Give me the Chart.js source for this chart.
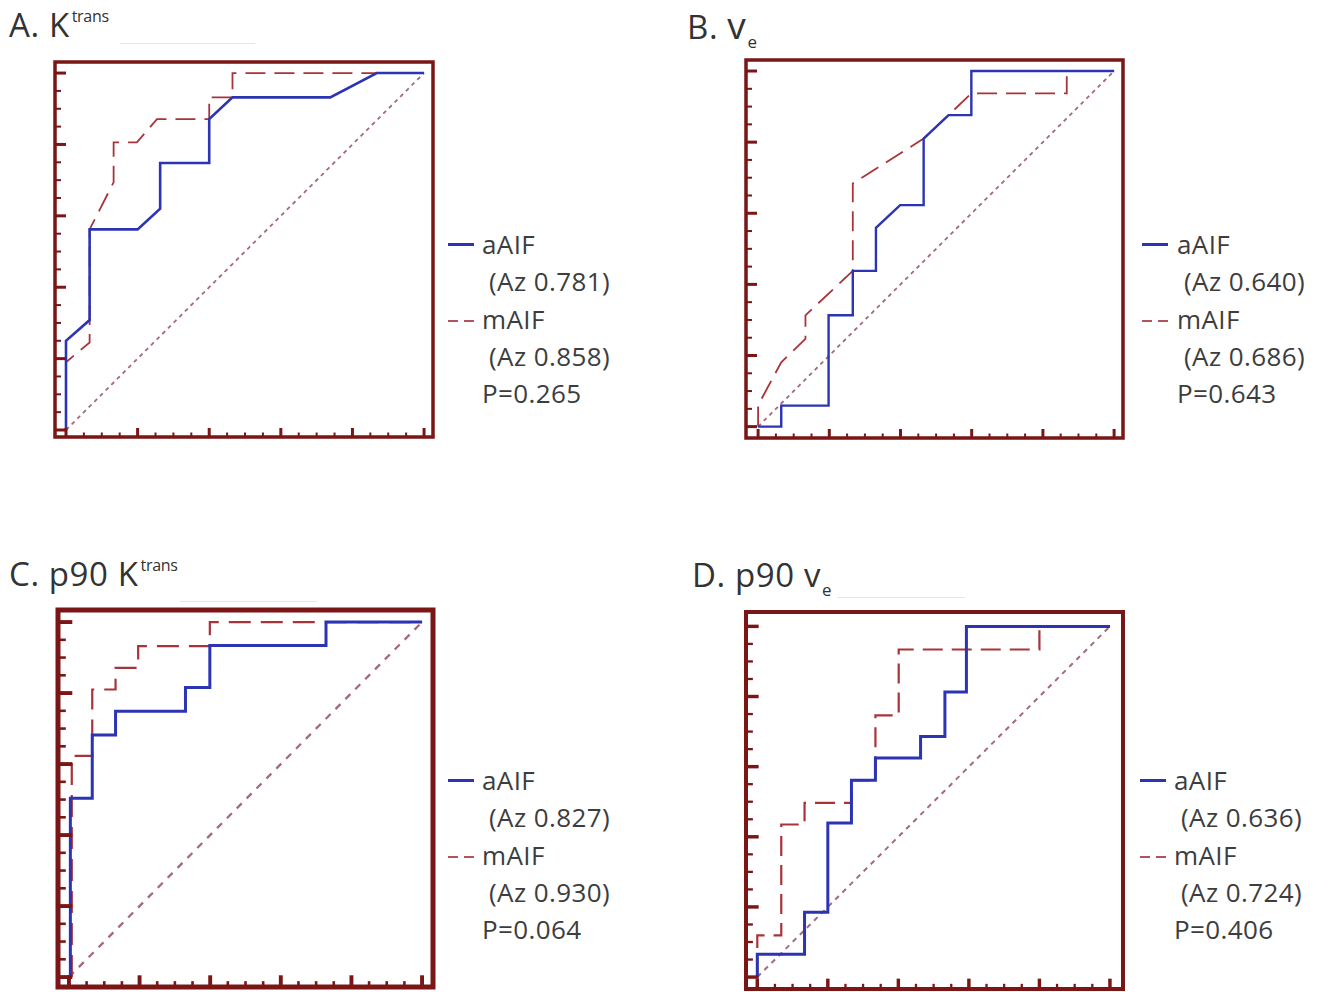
<!DOCTYPE html>
<html>
<head>
<meta charset="utf-8">
<script src="https://cdn.jsdelivr.net/npm/chart.js@4.4.0/dist/chart.umd.min.js"></script>
<style>
  html, body { margin:0; padding:0; background:#fff; }
  body { width:1325px; height:992px; position:relative; overflow:hidden; font-family:"Open Sans", "Noto Sans", sans-serif; color:#3d3d3d; }
  .title { position:absolute; font-size:33px; line-height:33px; white-space:nowrap; color:#333; letter-spacing:0.6px; }
  .title .sup { font-size:16px; position:relative; top:-15px; margin-left:2px; letter-spacing:-0.3px; }
  .title .sub { font-size:17px; position:relative; top:9px; margin-left:1px; }
  .title .bigv { font-size:37px; }
  .legend { position:absolute; font-size:26px; line-height:37.3px; white-space:nowrap; color:#3d3d3d; letter-spacing:0.4px; }
  .legend .ind { padding-left:7px; }
  .mark { position:absolute; height:0; }
  .faint { position:absolute; height:1px; background:#e6e6e6; }
  .box { position:absolute; }
</style>
</head>
<body>
<script>
// ---------- data (FPR = 1-specificity, TPR = sensitivity) ----------
// A. Ktrans
const fprA_aAIF = [0, 0, 0.066, 0.066, 0.2, 0.263, 0.263, 0.4, 0.4, 0.465, 0.738, 0.868, 1];
const tprA_aAIF = [0, 0.25, 0.308, 0.562, 0.562, 0.62, 0.748, 0.748, 0.871, 0.932, 0.932, 1, 1];
const fprA_mAIF = [0, 0, 0.066, 0.066, 0.133, 0.133, 0.198, 0.254, 0.4, 0.4, 0.465, 0.465, 1];
const tprA_mAIF = [0, 0.19, 0.245, 0.562, 0.694, 0.806, 0.806, 0.871, 0.871, 0.932, 0.932, 1, 1];
// B. ve
const fprB_aAIF = [0, 0.065, 0.065, 0.198, 0.198, 0.266, 0.266, 0.331, 0.331, 0.399, 0.465, 0.465, 0.535, 0.599, 0.599, 1];
const tprB_aAIF = [0, 0, 0.059, 0.059, 0.313, 0.313, 0.438, 0.438, 0.559, 0.623, 0.623, 0.81, 0.876, 0.876, 1, 1];
const fprB_mAIF = [0, 0, 0.065, 0.133, 0.133, 0.266, 0.266, 0.465, 0.535, 0.599, 0.867, 0.867, 1];
const tprB_mAIF = [0, 0.06, 0.181, 0.247, 0.313, 0.438, 0.684, 0.81, 0.876, 0.937, 0.937, 1, 1];
// C. p90 Ktrans
const fprC_aAIF = [0.004, 0.004, 0.066, 0.066, 0.132, 0.132, 0.33, 0.33, 0.399, 0.399, 0.728, 0.728, 1];
const tprC_aAIF = [0, 0.504, 0.504, 0.682, 0.682, 0.749, 0.749, 0.816, 0.816, 0.934, 0.934, 1, 1];
const fprC_mAIF = [0.008, 0.008, 0.066, 0.066, 0.132, 0.132, 0.196, 0.196, 0.399, 0.399, 1];
const tprC_mAIF = [0, 0.623, 0.623, 0.81, 0.81, 0.871, 0.871, 0.932, 0.932, 1, 1];
// D. p90 ve
const fprD_aAIF = [0, 0, 0.134, 0.134, 0.2, 0.2, 0.267, 0.267, 0.335, 0.335, 0.463, 0.463, 0.532, 0.532, 0.593, 0.593, 1];
const tprD_aAIF = [0, 0.065, 0.065, 0.185, 0.185, 0.439, 0.439, 0.561, 0.561, 0.625, 0.625, 0.686, 0.686, 0.813, 0.813, 1, 1];
const fprD_mAIF = [0, 0, 0.068, 0.068, 0.134, 0.134, 0.267, 0.267, 0.335, 0.335, 0.401, 0.401, 0.8, 0.8, 1];
const tprD_mAIF = [0, 0.119, 0.119, 0.435, 0.435, 0.497, 0.497, 0.561, 0.561, 0.746, 0.746, 0.934, 0.934, 1, 1];
// chance line
const chanceX = [0, 1];
const chanceY = [0, 1];
// axis tick values
const majorTicks = [0, 0.2, 0.4, 0.6, 0.8, 1.0];
const minorTicks = [0.05, 0.1, 0.15, 0.25, 0.3, 0.35, 0.45, 0.5, 0.55, 0.65, 0.7, 0.75, 0.85, 0.9, 0.95];
// legend text
const seriesNames = ['aAIF', 'mAIF'];
const azA = ['0.781', '0.858'];
const azB = ['0.640', '0.686'];
const azC = ['0.827', '0.930'];
const azD = ['0.636', '0.724'];
const pValues = ['0.265', '0.643', '0.064', '0.406'];

// ---------- layout / styling ----------
const BLUE = '#2b35b4';
const RED = '#a8343a';
const DIAG = '#a46a7c';
const FRAME = '#7a1616';

function pts(xs, ys) { return xs.map((x, i) => ({x: x, y: ys[i]})); }

const panels = [
  { id:'A', frame:[55, 62, 433, 437], xr:[-0.0307, 1.025], yr:[-0.0196, 1.031], fw:3.5, tw:1,
    a:[fprA_aAIF, tprA_aAIF], m:[fprA_mAIF, tprA_mAIF], diagDash:[4,4], diagW:1.8, mW:1.8, aW:2.6, mDash:[20,9] },
  { id:'B', frame:[746, 60, 1123, 438], xr:[-0.034, 1.025], yr:[-0.032, 1.031], fw:3.5, tw:1,
    a:[fprB_aAIF, tprB_aAIF], m:[fprB_mAIF, tprB_mAIF], diagDash:[4,4], diagW:1.8, mW:1.8, aW:2.4, mDash:[20,9] },
  { id:'C', frame:[58, 610, 433, 987], xr:[-0.031, 1.031], yr:[-0.028, 1.034], fw:5, tw:1.3,
    a:[fprC_aAIF, tprC_aAIF], m:[fprC_mAIF, tprC_mAIF], diagDash:[7,7], diagW:2.3, mW:2.2, aW:3, mDash:[22,10] },
  { id:'D', frame:[746, 612, 1123, 989], xr:[-0.032, 1.037], yr:[-0.034, 1.041], fw:4, tw:1.15,
    a:[fprD_aAIF, tprD_aAIF], m:[fprD_mAIF, tprD_mAIF], diagDash:[5,5], diagW:2, mW:2.2, aW:3, mDash:[20,9] }
];

const framePlugin = {
  id: 'rocFrame',
  afterDatasetsDraw(chart, args, opts) {
    const ctx = chart.ctx, ca = chart.chartArea;
    const xs = chart.scales.x, ys = chart.scales.y;
    const k = opts.tw || 1;
    ctx.save();
    ctx.strokeStyle = FRAME;
    ctx.lineCap = 'butt';
    const drawY = (v, len, w) => {
      const py = ys.getPixelForValue(v);
      ctx.lineWidth = w; ctx.beginPath(); ctx.moveTo(ca.left, py); ctx.lineTo(ca.left + len, py); ctx.stroke();
    };
    const drawX = (v, len, w) => {
      const px = xs.getPixelForValue(v);
      ctx.lineWidth = w; ctx.beginPath(); ctx.moveTo(px, ca.bottom); ctx.lineTo(px, ca.bottom - len); ctx.stroke();
    };
    minorTicks.forEach(v => { drawY(v, 6 * k, 2 * k); drawX(v, 4.5 * k, 2 * k); });
    majorTicks.forEach(v => { drawY(v, 11 * k, 3 * k); drawX(v, 9 * k, 3 * k); });
    ctx.lineWidth = opts.fw;
    ctx.strokeRect(ca.left, ca.top, ca.right - ca.left, ca.bottom - ca.top);
    ctx.restore();
  }
};

panels.forEach(p => {
  const pad = 6;
  const [l, t, r, b] = p.frame;
  const div = document.createElement('div');
  div.className = 'box';
  div.style.left = (l - pad) + 'px';
  div.style.top = (t - pad) + 'px';
  const cv = document.createElement('canvas');
  cv.width = (r - l) + 2 * pad;
  cv.height = (b - t) + 2 * pad;
  cv.style.width = cv.width + 'px';
  cv.style.height = cv.height + 'px';
  div.appendChild(cv);
  document.body.appendChild(div);
  new Chart(cv.getContext('2d'), {
    type: 'line',
    data: {
      datasets: [
        { label: seriesNames[0], data: pts(p.a[0], p.a[1]), borderColor: BLUE, borderWidth: p.aW, fill: false },
        { label: seriesNames[1], data: pts(p.m[0], p.m[1]), borderColor: RED, borderWidth: p.mW, borderDash: p.mDash, fill: false },
        { label: 'chance', data: pts(chanceX, chanceY), borderColor: DIAG, borderWidth: p.diagW, borderDash: p.diagDash, fill: false }
      ]
    },
    options: {
      responsive: false,
      animation: false,
      devicePixelRatio: 1,
      layout: { padding: pad },
      elements: { point: { radius: 0 }, line: { tension: 0, borderJoinStyle: 'miter', borderCapStyle: 'butt' } },
      plugins: { legend: { display: false }, tooltip: { enabled: false }, rocFrame: { fw: p.fw, tw: p.tw } },
      scales: {
        x: { type: 'linear', min: p.xr[0], max: p.xr[1], display: false },
        y: { type: 'linear', min: p.yr[0], max: p.yr[1], display: false }
      }
    },
    plugins: [framePlugin]
  });
});

// ---------- titles & legends (HTML text) ----------
function addEl(cls, html, left, top) {
  const d = document.createElement('div');
  d.className = cls; d.innerHTML = html;
  d.style.left = left + 'px'; d.style.top = top + 'px';
  document.body.appendChild(d);
  return d;
}
addEl('title', 'A. K<span class="sup">trans</span>', 9, 8);
addEl('title', 'B. <span class="bigv">v</span><span class="sub">e</span>', 687, 8);
addEl('title', 'C. p90 K<span class="sup">trans</span>', 9, 557);
addEl('title', 'D. p90 v<span class="sub">e</span>', 692, 558);

addEl('faint', '', 120, 43).style.width = '135px';
addEl('faint', '', 180, 601).style.width = '137px';
addEl('faint', '', 837, 597).style.width = '128px';

const legendPos = [
  { x: 482, y: 226, mx: 448, ly: 244, my: 321, az: azA },
  { x: 1177, y: 226, mx: 1142, ly: 244, my: 321, az: azB },
  { x: 482, y: 762, mx: 448, ly: 780, my: 857, az: azC },
  { x: 1174, y: 762, mx: 1140, ly: 780, my: 857, az: azD }
];
legendPos.forEach((g, i) => {
  addEl('legend',
    seriesNames[0] + '<br><span class="ind">(Az ' + g.az[0] + ')</span><br>' +
    seriesNames[1] + '<br><span class="ind">(Az ' + g.az[1] + ')</span><br>' +
    'P=' + pValues[i], g.x, g.y);
  const m1 = addEl('mark', '', g.mx, g.ly - 1);
  m1.style.width = '26px'; m1.style.borderTop = '3px solid ' + BLUE;
  const d1 = addEl('mark', '', g.mx, g.my - 1);
  d1.style.width = '10px'; d1.style.borderTop = '2px solid #b0545c';
  const d2 = addEl('mark', '', g.mx + 16, g.my - 1);
  d2.style.width = '10px'; d2.style.borderTop = '2px solid #b0545c';
});
</script>
</body>
</html>
